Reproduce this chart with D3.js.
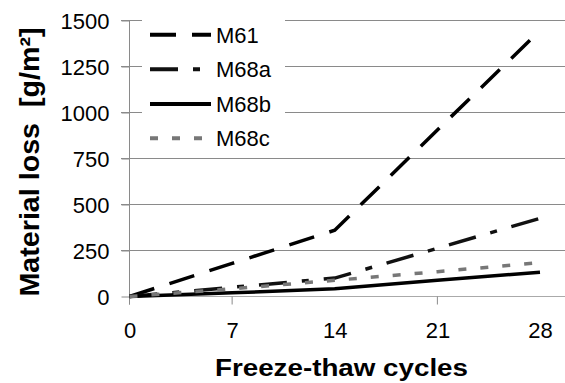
<!DOCTYPE html>
<html>
<head>
<meta charset="utf-8">
<script src="https://cdn.jsdelivr.net/npm/d3@7"></script>
<style>
  body { margin: 0; background: #fff; }
  text { font-family: "Liberation Sans", Arial, sans-serif; fill: #000; }
</style>
</head>
<body>
<svg id="chart" width="565" height="383"></svg>
<script>
// data
var cycles = [0, 7, 14, 21, 28];
var m61 = [0, 180, 360, 905, 1445];
var m68a = [0, 50, 100, 262, 425];
var m68b = [0, 20, 42, 88, 132];
var m68c = [0, 42, 88, 135, 184];
var seriesNames = ["M61", "M68a", "M68b", "M68c"];
var yTicks = [0, 250, 500, 750, 1000, 1250, 1500];
var xTicks = [0, 7, 14, 21, 28];
var xTickMarks = [0, 7, 21];

var svg = d3.select("#chart");

var x = d3.scaleLinear().domain([0, 28]).range([129.5, 540]);
var y = d3.scaleLinear().domain([0, 1500]).range([296.5, 20.5]);

var series = [
    {name: seriesNames[0], values: m61, color: "#000", dash: "26,16", width: 4},
    {name: seriesNames[1], values: m68a, color: "#111", dash: "28,15,7,15", width: 4},
    {name: seriesNames[2], values: m68b, color: "#000", dash: null, width: 4},
    {name: seriesNames[3], values: m68c, color: "#777", dash: "8,14", width: 4}
];

// gridlines
svg.append("g")
    .selectAll("line")
    .data(yTicks.slice(1))
    .enter().append("line")
    .attr("x1", 121).attr("x2", 565)
    .attr("y1", function(d) { return y(d); })
    .attr("y2", function(d) { return y(d); })
    .attr("stroke", "#8a8a8a")
    .attr("stroke-width", 1);

// y axis
var yAxis = svg.append("g")
    .attr("transform", "translate(" + x(0) + ",0)")
    .call(d3.axisLeft(y).tickValues(yTicks).tickFormat(d3.format("d")).tickSize(8).tickPadding(12));
yAxis.select(".domain").remove();
yAxis.selectAll(".tick line").attr("stroke", "#8a8a8a");
yAxis.selectAll(".tick text")
    .style("font-size", "22px")
    .style("font-family", "'Liberation Sans', Arial, sans-serif")
    .attr("fill", "#000")
    .attr("dy", "0.36em");
svg.append("line")
    .attr("x1", x(0)).attr("x2", x(0))
    .attr("y1", y(1500)).attr("y2", y(0) + 8)
    .attr("stroke", "#8a8a8a");

// x axis
var xAxis = svg.append("g")
    .attr("transform", "translate(0," + y(0) + ")")
    .call(d3.axisBottom(x).tickValues(xTicks).tickSize(0).tickPadding(26));
xAxis.select(".domain").remove();
xAxis.selectAll(".tick text")
    .style("font-size", "22px")
    .style("font-family", "'Liberation Sans', Arial, sans-serif")
    .attr("fill", "#000");
svg.append("line")
    .attr("x1", x(0)).attr("x2", 565)
    .attr("y1", y(0)).attr("y2", y(0))
    .attr("stroke", "#aaa");
svg.append("g")
    .selectAll("line")
    .data(xTickMarks)
    .enter().append("line")
    .attr("x1", function(d) { return x(d); })
    .attr("x2", function(d) { return x(d); })
    .attr("y1", y(0)).attr("y2", y(0) + 8)
    .attr("stroke", "#8a8a8a");

// data lines
var line = d3.line()
    .x(function(d, i) { return x(cycles[i]); })
    .y(function(d) { return y(d); });

svg.append("g")
    .selectAll("path")
    .data(series)
    .enter().append("path")
    .attr("d", function(d) { return line(d.values); })
    .attr("fill", "none")
    .attr("stroke", function(d) { return d.color; })
    .attr("stroke-width", 3.5)
    .attr("stroke-dasharray", function(d) { return d.dash; });

// legend
var legend = svg.append("g");
legend.append("rect")
    .attr("x", 142).attr("y", 14)
    .attr("width", 143).attr("height", 138)
    .attr("fill", "#fff");
var item = legend.selectAll("g.item")
    .data(series)
    .enter().append("g")
    .attr("class", "item")
    .attr("transform", function(d, i) { return "translate(0," + [34.7, 69.3, 104, 138.3][i] + ")"; });
item.append("line")
    .attr("x1", 150).attr("x2", 211)
    .attr("stroke", function(d) { return d.color; })
    .attr("stroke-width", function(d) { return d.width; })
    .attr("stroke-dasharray", function(d) { return d.dash; });
item.append("text")
    .attr("x", 216)
    .attr("dy", "0.36em")
    .style("font-size", "22px")
    .text(function(d) { return d.name; });

// axis titles
svg.append("text")
    .attr("x", 341.5).attr("y", 376)
    .attr("text-anchor", "middle")
    .attr("textLength", 253)
    .attr("lengthAdjust", "spacingAndGlyphs")
    .style("font-size", "23px")
    .style("font-weight", "bold")
    .text("Freeze-thaw cycles");

svg.append("text")
    .attr("transform", "translate(39,162) rotate(-90)")
    .attr("text-anchor", "middle")
    .attr("textLength", 269)
    .attr("lengthAdjust", "spacingAndGlyphs")
    .style("font-size", "27px")
    .style("font-weight", "bold")
    .style("white-space", "pre")
    .text("Material loss  [g/m²]");
</script>
</body>
</html>
